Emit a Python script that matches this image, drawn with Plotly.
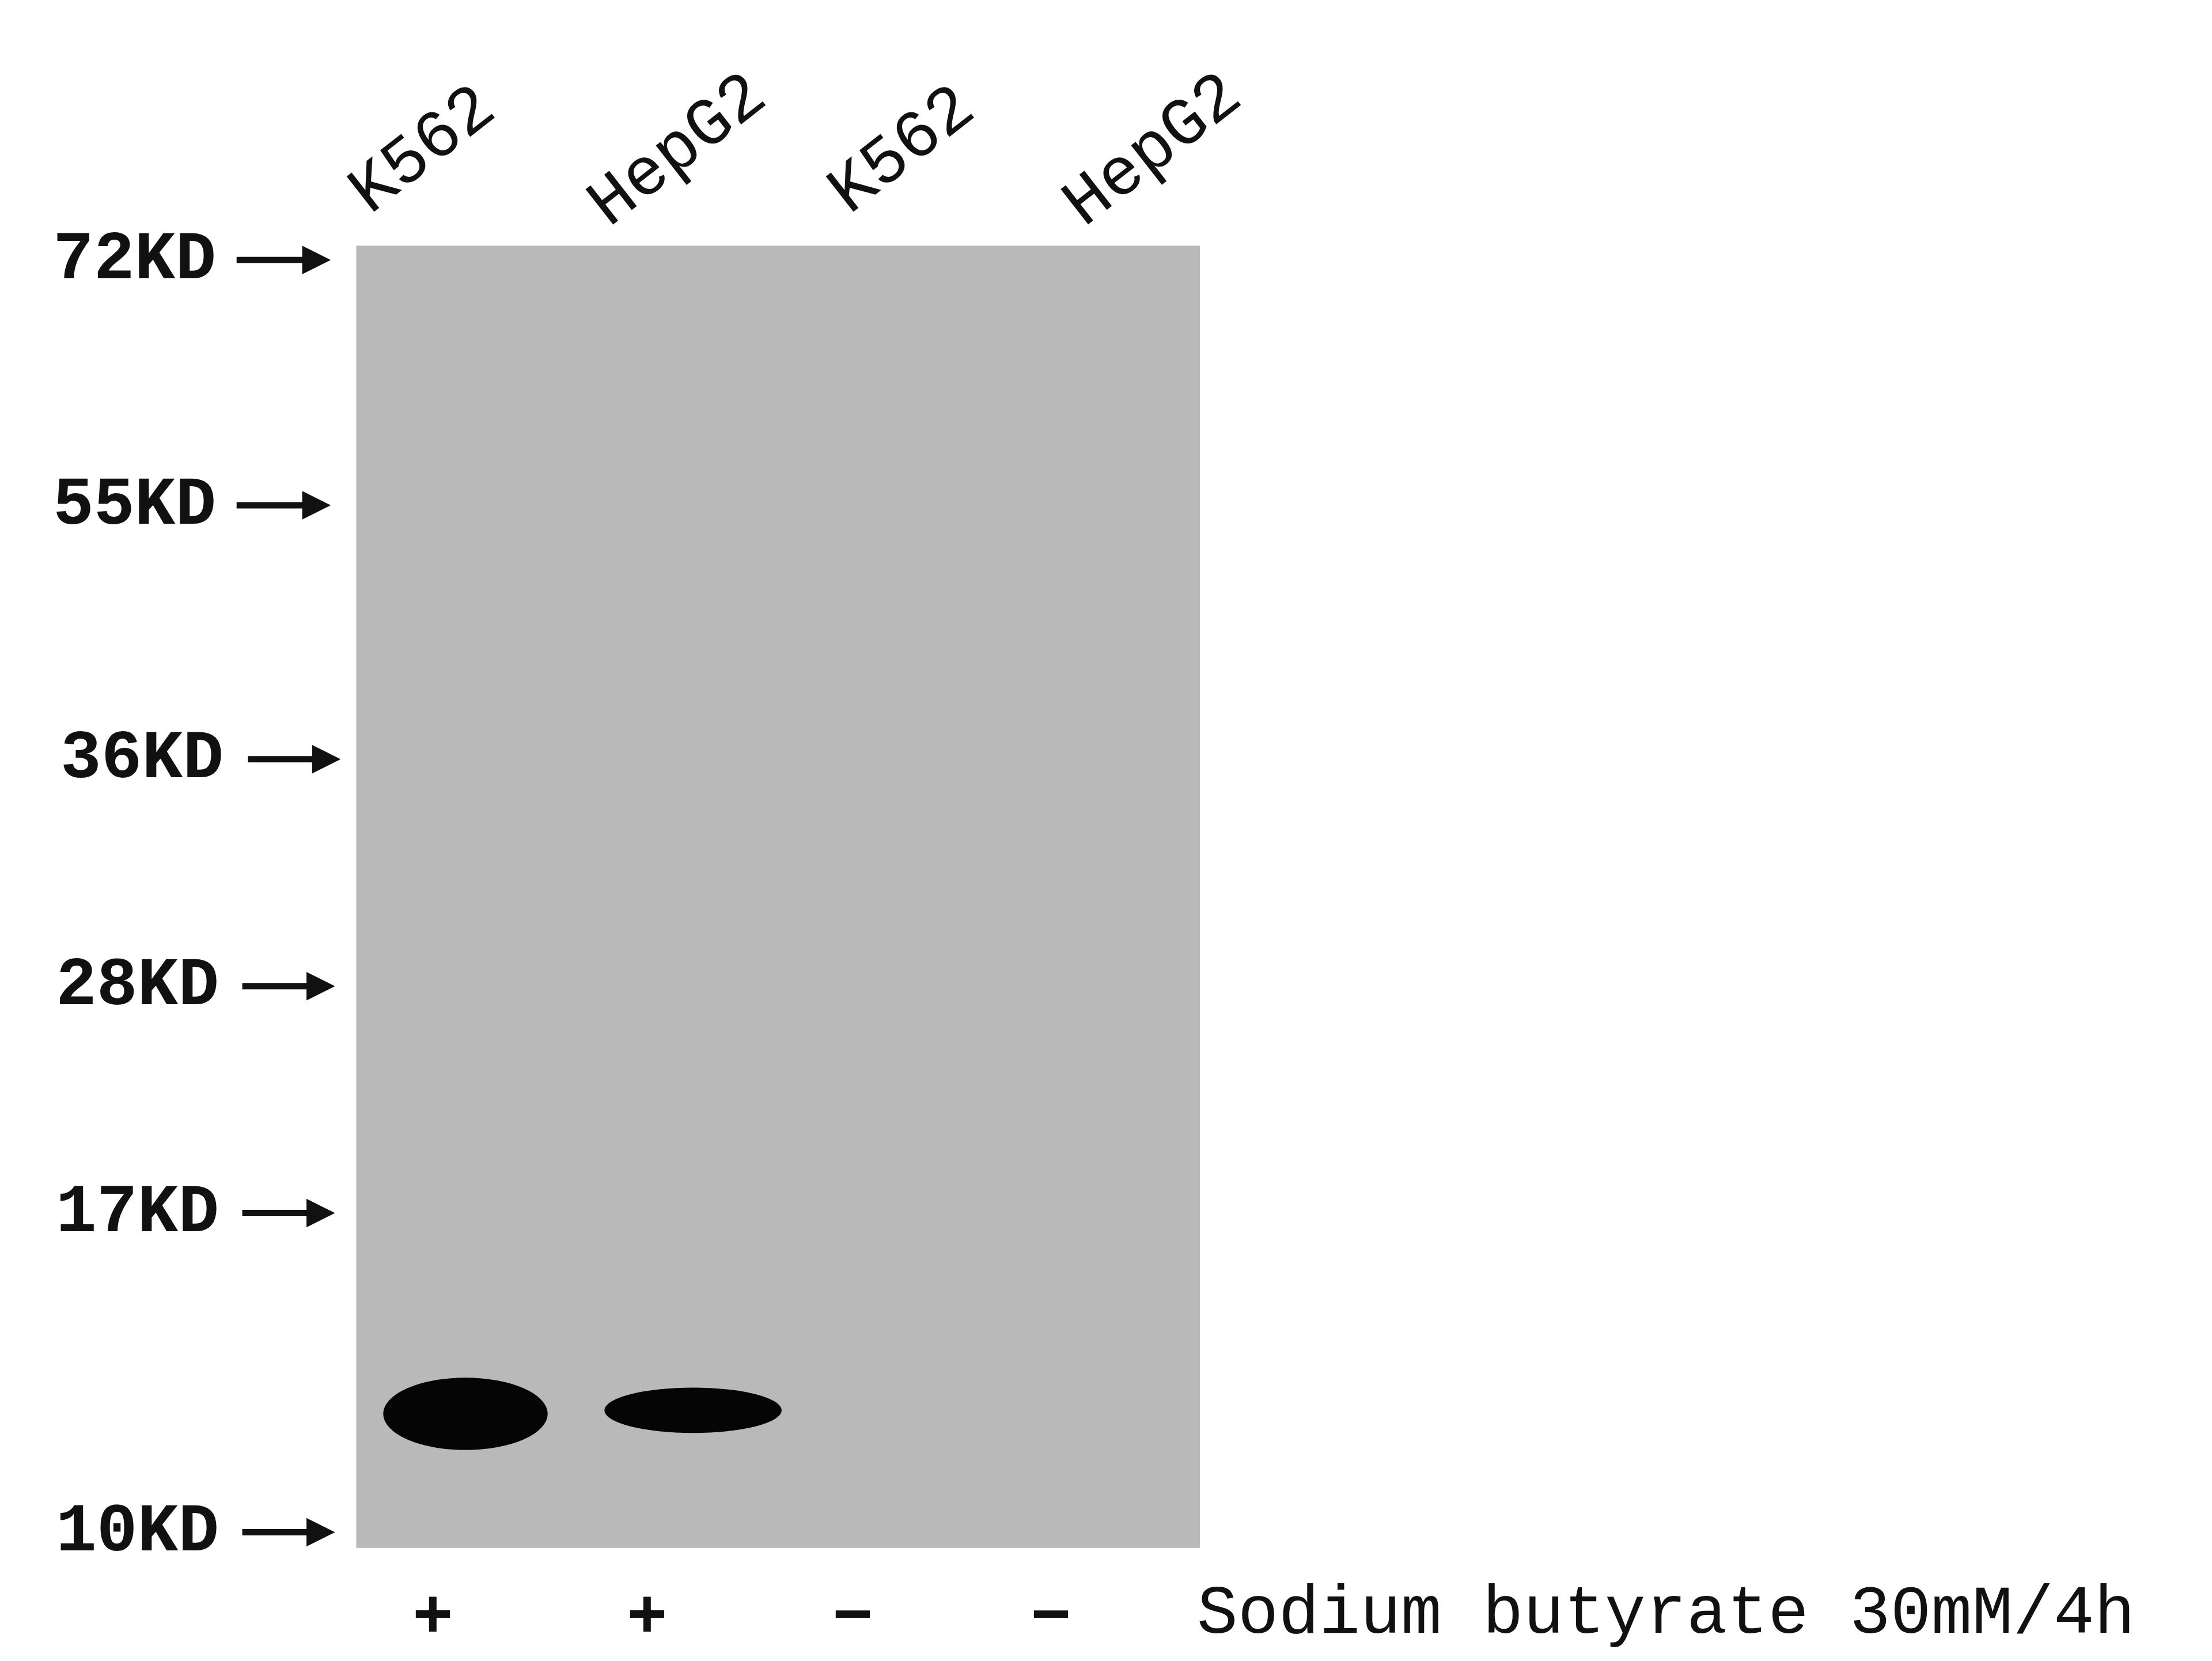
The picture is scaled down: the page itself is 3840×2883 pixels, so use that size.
import plotly.graph_objects as go

# coordinates are in the reference's 1560 x 1171 "display pixel" frame
markers = ["72KD", "55KD", "36KD", "28KD", "17KD", "10KD"]
marker_y = [185, 358, 537, 697, 857, 1082]
marker_label_x = [155, 155, 160, 157, 157, 157]
arrow_x0 = [168, 168, 176, 172, 172, 172]
arrow_x1 = [235, 235, 242, 238, 238, 238]

lanes = ["K562", "HepG2", "K562", "HepG2"]
lane_x = [300, 480, 638, 815]
lane_y = 108

treat = ["+", "+", "\u2212", "\u2212"]
treat_x = [307, 458, 603, 743]
treat_y = 1143
treat_label = "Sodium butyrate 30mM/4h"

blot_x = [253, 848]
blot_y = [175, 1093]

band_x0 = [272, 428]
band_x1 = [388, 553]
band_y0 = [973, 980]
band_y1 = [1024, 1012]

W, H = 1560, 1171
OFF = 5
FONT = "Liberation Mono"

fig = go.Figure()
fig.add_trace(go.Scatter(x=[0, W], y=[0, H], mode="markers", marker=dict(opacity=0), hoverinfo="skip", showlegend=False))

fig.add_shape(type="rect", x0=blot_x[0], x1=blot_x[1], y0=blot_y[0], y1=blot_y[1],
              fillcolor="#b9b9b9", line_width=0, layer="below")

for x0, x1, y0, y1 in zip(band_x0, band_x1, band_y0, band_y1):
    fig.add_shape(type="circle", x0=x0, x1=x1, y0=y0, y1=y1, fillcolor="#050505", line_width=0)

for m, y, lx, a0, a1 in zip(markers, marker_y, marker_label_x, arrow_x0, arrow_x1):
    fig.add_annotation(x=lx, y=y, text="<b>%s</b>" % m, showarrow=False, xanchor="right",
                       font=dict(family=FONT, size=118, color="#111"))
    fig.add_annotation(x=a1, y=y, ax=a0, ay=y, axref="x", ayref="y", xref="x", yref="y",
                       text="", showarrow=True, arrowhead=2, arrowsize=0.9, arrowwidth=11,
                       arrowcolor="#111")

for lab, x in zip(lanes, lane_x):
    fig.add_annotation(x=x, y=lane_y, text=lab, showarrow=False, textangle=-38,
                       font=dict(family=FONT, size=118, color="#111"))

for t, x in zip(treat, treat_x):
    fig.add_annotation(x=x, y=treat_y, text="<b>%s</b>" % t, showarrow=False,
                       font=dict(family=FONT, size=118, color="#111"))
fig.add_annotation(x=845, y=1140, text=treat_label, showarrow=False, xanchor="left",
                   font=dict(family=FONT, size=118, color="#111"))

fig.update_xaxes(range=[OFF, W + OFF], visible=False, domain=[0, 1])
fig.update_yaxes(range=[H + OFF, OFF], visible=False, domain=[0, 1])
fig.update_layout(width=3840, height=2883, margin=dict(l=0, r=0, t=0, b=0),
                  paper_bgcolor="white", plot_bgcolor="white", showlegend=False)
fig.write_html("out.html")
